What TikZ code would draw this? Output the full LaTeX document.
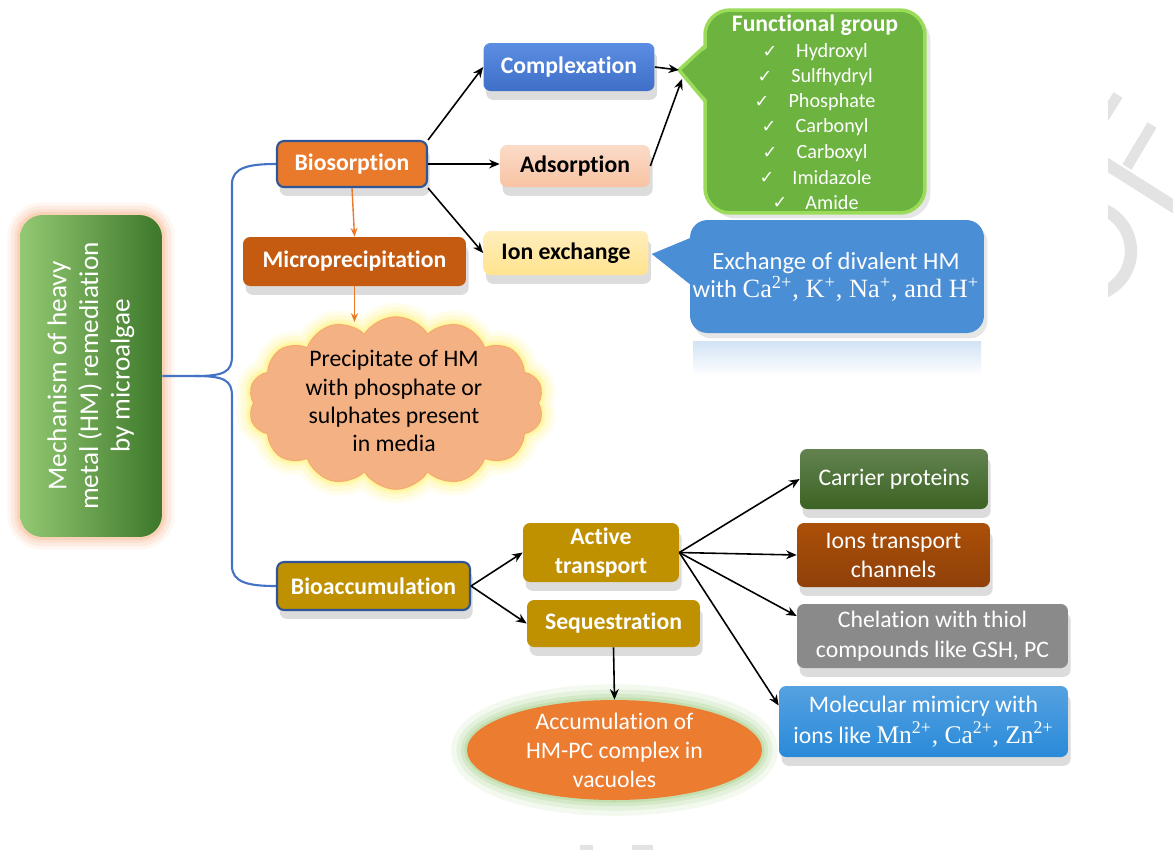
\documentclass[tikz,border=0pt]{standalone}
\usepackage{fontspec}
\setmainfont{Carlito}[Ligatures=NoCommon]
\newfontfamily\dejavu{DejaVu Sans}
\newfontfamily\tnr{Liberation Serif}
\usetikzlibrary{shapes.symbols,shapes.geometric,shadows,arrows.meta,calc}
\pgfdeclarelayer{background}
\pgfsetlayers{background,main}
\definecolor{mainL}{HTML}{93C972}
\definecolor{mainD}{HTML}{3C772A}
\definecolor{bioorange}{HTML}{E97A2C}
\definecolor{borderblue}{HTML}{2F5597}
\definecolor{bracec}{HTML}{4472C4}
\definecolor{microC}{HTML}{C55A11}
\definecolor{cloudC}{HTML}{F4B183}
\definecolor{complC}{HTML}{3F6FC8}
\definecolor{complL}{HTML}{5B8DE2}
\definecolor{adsC}{HTML}{F8C3A3}
\definecolor{ionC}{HTML}{FFE38F}
\definecolor{fgC}{HTML}{6CB33F}
\definecolor{fgL}{HTML}{9BDB5A}
\definecolor{ieC}{HTML}{4A8ED6}
\definecolor{goldC}{HTML}{BF9000}
\definecolor{carrC}{HTML}{3B6323}
\definecolor{ionsC}{HTML}{8F400A}
\definecolor{chelC}{HTML}{8A8A8A}
\definecolor{molC}{HTML}{2A8AD9}
\definecolor{ellC}{HTML}{EC7C30}
\definecolor{ellG}{HTML}{A9D18E}
\definecolor{glowO}{HTML}{F7B48C}
\definecolor{glowY}{HTML}{FFF27A}
\definecolor{wm}{HTML}{E3E3E3}
\begin{document}
\begin{tikzpicture}[x=0.02cm, y=-0.02cm,
  box/.style={rounded corners=4pt, align=center, inner sep=2pt,
    font=\fontsize{13.5}{16.5}\selectfont,
    drop shadow={opacity=0.28, shadow xshift=1.5pt, shadow yshift=-5pt}},
  bbox/.style={box, font=\fontsize{13.5}{17}\selectfont\bfseries},
  arr/.style={-{Stealth[length=6pt,width=5pt]}, line width=0.9pt, black},
  oarr/.style={-{Stealth[length=5pt,width=4pt]}, line width=0.8pt, draw=bioorange, color=bioorange},
  brace/.style={draw=bracec, line width=1.2pt},
  fgitem/.style={text=white, font=\fontsize{11.5}{13}\selectfont, inner sep=0pt},
  fgcheck/.style={text=white, font=\dejavu\fontsize{10}{12}\selectfont, inner sep=0pt},
  cloudsh/.style={cloud, cloud puffs=14, cloud puff arc=115, cloud ignores aspect,
    minimum width=5.9cm, minimum height=3.45cm}
]
\useasboundingbox (0,0) rectangle (1173,850);

% ---------- watermark fragments ----------
\begin{scope}
  \clip (1108,0) rectangle (1173,850);
  \draw[wm, line width=6pt] (1118,95) -- (1098,127);
  \draw[wm, line width=6pt] (1152,125) -- (1127,167);
  \draw[wm, line width=7pt] (1100,160) -- (1176,208);
  \draw[wm, line width=7pt] (1086,251) circle [radius=0.9cm];
\end{scope}
\fill[wm] (580,845) rectangle (593,850);
\fill[wm] (632,845) rectangle (653,850);

% ---------- main box ----------
\node[left color=mainL, right color=mainD, rounded corners=0.45cm,
  minimum width=2.84cm, minimum height=6.44cm] (main) at (91,376) {};
\node[rotate=90, text=white, align=center, font=\fontsize{15.5}{18}\selectfont] (maintext)
  at (main.center) {Mechanism of heavy\\metal (HM) remediation\\by microalgae};

% ---------- biosorption branch ----------
\node[bbox, fill=bioorange, draw=borderblue, line width=1.2pt, text=white,
  minimum width=3cm, minimum height=0.92cm] (bios) at (352,164) {Biosorption};
\node[bbox, fill=microC, text=white, minimum width=4.46cm, minimum height=0.98cm]
  (micro) at (354.5,261.5) {Microprecipitation};

\node[cloudsh, fill=cloudC, draw=cloudC!85!orange, line width=0.6pt] (cloud) at (396,403) {};
\node[align=center, font=\fontsize{13.5}{16}\selectfont, text=black] (cloudtext)
  at (394,401) {Precipitate of HM\\with phosphate or\\sulphates present\\in media};
\coordinate (cloudtop) at (354.5,322);

\node[bbox, top color=complL, bottom color=complC, text=white,
  minimum width=3.42cm, minimum height=0.96cm] (compl) at (569,67) {Complexation};
\node[bbox, top color=adsC!60!white, bottom color=adsC, text=black,
  minimum width=3cm, minimum height=0.84cm] (ads) at (575,166) {Adsorption};
\node[bbox, top color=ionC!60!white, bottom color=ionC, text=black,
  minimum width=3.3cm, minimum height=0.88cm] (ionex) at (566,253) {Ion exchange};

% functional group callout
\coordinate (fgtip) at (679,70);
\coordinate (fgin) at (682,79);
\filldraw[fill=fgC, draw=fgL, line width=2pt, line join=round] (fgtip) -- (716,36) -- (716,114) -- cycle;
\node[fill=fgC, draw=fgL, line width=2pt, rounded corners=0.5cm,
  minimum width=4.4cm, minimum height=4.06cm,
  drop shadow={opacity=0.2, shadow xshift=3pt, shadow yshift=-3pt}] (fg) at (815,111.5) {};
\fill[fgC] (684,70) -- (714,41) -- (714,109) -- cycle;
\node[text=white, font=\fontsize{13.5}{16}\selectfont\bfseries, inner sep=0pt] (fgtitle)
  at (815,25) {Functional group};
\foreach \k/\nm/\yy/\cx in {1/Hydroxyl/52/770, 2/Sulfhydryl/77/765, 3/Phosphate/102/762,
  4/Carbonyl/127/769, 5/Carboxyl/153/770, 6/Imidazole/178/767, 7/Amide/203/780}{
  \node[fgitem] (fgi\k) at (832,\yy) {\nm};
  \node[fgcheck] (fgc\k) at (\cx,\yy) {✓};
}

% ion exchange callout
\coordinate (ietip) at (652,254);
\shade[top color=ieC!25, bottom color=white] (693,341) rectangle (981,376);
\fill[ieC] (ietip) -- (705,232) -- (705,296) -- cycle;
\node[fill=ieC, rounded corners=0.35cm, minimum width=5.88cm, minimum height=2.26cm,
  drop shadow={opacity=0.2, shadow xshift=2pt, shadow yshift=-3pt}] (ie) at (837,276.5) {};
\fill[ieC] (ietip) -- (705,232) -- (705,296) -- cycle;
\node[align=center, text=white, font=\fontsize{14}{16}\selectfont] (ietext) at (836,277)
  {Exchange of divalent HM\\with {\tnr\fontsize{15}{16}\selectfont Ca\textsuperscript{2+}, K\textsuperscript{+}, Na\textsuperscript{+}, and H\textsuperscript{+}}};

% ---------- bioaccumulation branch ----------
\node[bbox, fill=goldC, draw=borderblue, line width=1.2pt, text=white,
  minimum width=3.86cm, minimum height=0.96cm] (bioacc) at (373.5,586) {Bioaccumulation};
\node[bbox, fill=goldC, text=white, minimum width=3.12cm, minimum height=1.18cm]
  (activ) at (601,552.5) {Active\\transport};
\node[bbox, fill=goldC, text=white, minimum width=3.46cm, minimum height=0.94cm]
  (seq) at (613.5,623.5) {Sequestration};

\node[ellipse, fill=ellC, minimum width=5.9cm, minimum height=2cm] (ell) at (614.5,750) {};
\node[align=center, text=white, font=\fontsize{13.5}{16.5}\selectfont] (elltext)
  at (614.5,750) {Accumulation of\\HM-PC complex in\\vacuoles};

\node[box, top color=carrC!80!white, bottom color=carrC, text=white,
  minimum width=3.76cm, minimum height=1.2cm] (carrier) at (894,479) {Carrier proteins};
\node[box, top color=ionsC!75!orange, bottom color=ionsC, text=white,
  minimum width=3.86cm, minimum height=1.28cm] (ions) at (893.5,555) {Ions transport\\channels};
\node[box, fill=chelC, text=white, minimum width=5.42cm, minimum height=1.28cm,
  font=\fontsize{13.5}{17}\selectfont] (chel) at (932.5,636) {Chelation with thiol\\compounds like GSH, PC};
\node[box, top color=molC!80!white, bottom color=molC, text=white,
  minimum width=5.78cm, minimum height=1.42cm, font=\fontsize{13.5}{17.5}\selectfont] (molec) at (923.5,721.5)
  {Molecular mimicry with\\ions like {\tnr\fontsize{14.5}{17}\selectfont Mn\textsuperscript{2+}, Ca\textsuperscript{2+}, Zn\textsuperscript{2+}}};

% ---------- glows (background) ----------
\begin{pgfonlayer}{background}
  \foreach \w/\o in {14/0.12, 10/0.16, 6/0.22, 3/0.3}{
    \draw[glowO, line width=\w pt, opacity=\o, rounded corners=0.45cm]
      (main.south west) rectangle (main.north east);
  }
  \foreach \w/\o in {16/0.15, 11/0.2, 6/0.3, 3/0.4}{
    \node[cloudsh, draw=glowY, line width=\w pt, opacity=\o] at (cloud.center) {};
  }
  \foreach \w/\o in {18/0.14, 12/0.2, 7/0.28, 3/0.4}{
    \draw[ellG, line width=\w pt, opacity=\o] (ell.center) ellipse [x radius=2.95cm, y radius=1cm];
  }
\end{pgfonlayer}

% ---------- connectors ----------
\draw[brace] (main.east) -- (195,376)
  .. controls (224,376) and (232,372) .. (232,356) -- (232,184)
  .. controls (232,167) and (250,164) .. (bios.west);
\draw[brace] (195,376)
  .. controls (224,376) and (232,380) .. (232,396) -- (232,566)
  .. controls (232,583) and (250,586) .. (bioacc.west);

\draw[arr] (bios.north east) -- (compl.west);
\draw[arr] (bios.east) -- (bios.east -| ads.west);
\draw[arr] (bios.south east) -- (ionex.west);
\draw[oarr] (bios.south) -- (micro.north);
\draw[oarr] (micro.south) -- (cloudtop);
\draw[arr] (compl.east) -- (fgtip);
\draw[arr] (ads.east) -- (fgin);

\draw[arr] (bioacc.east) -- (activ.west);
\draw[arr] (bioacc.east) -- (seq.west);
\draw[arr] (seq.south) -- (ell.north);
\draw[arr] (activ.east) -- (carrier.west);
\draw[arr] (activ.east) -- (ions.west);
\draw[arr] (activ.east) -- ($(chel.west)+(0,-20)$);
\draw[arr] (activ.east) -- ($(molec.west)+(0,-16)$);
\end{tikzpicture}
\end{document}
